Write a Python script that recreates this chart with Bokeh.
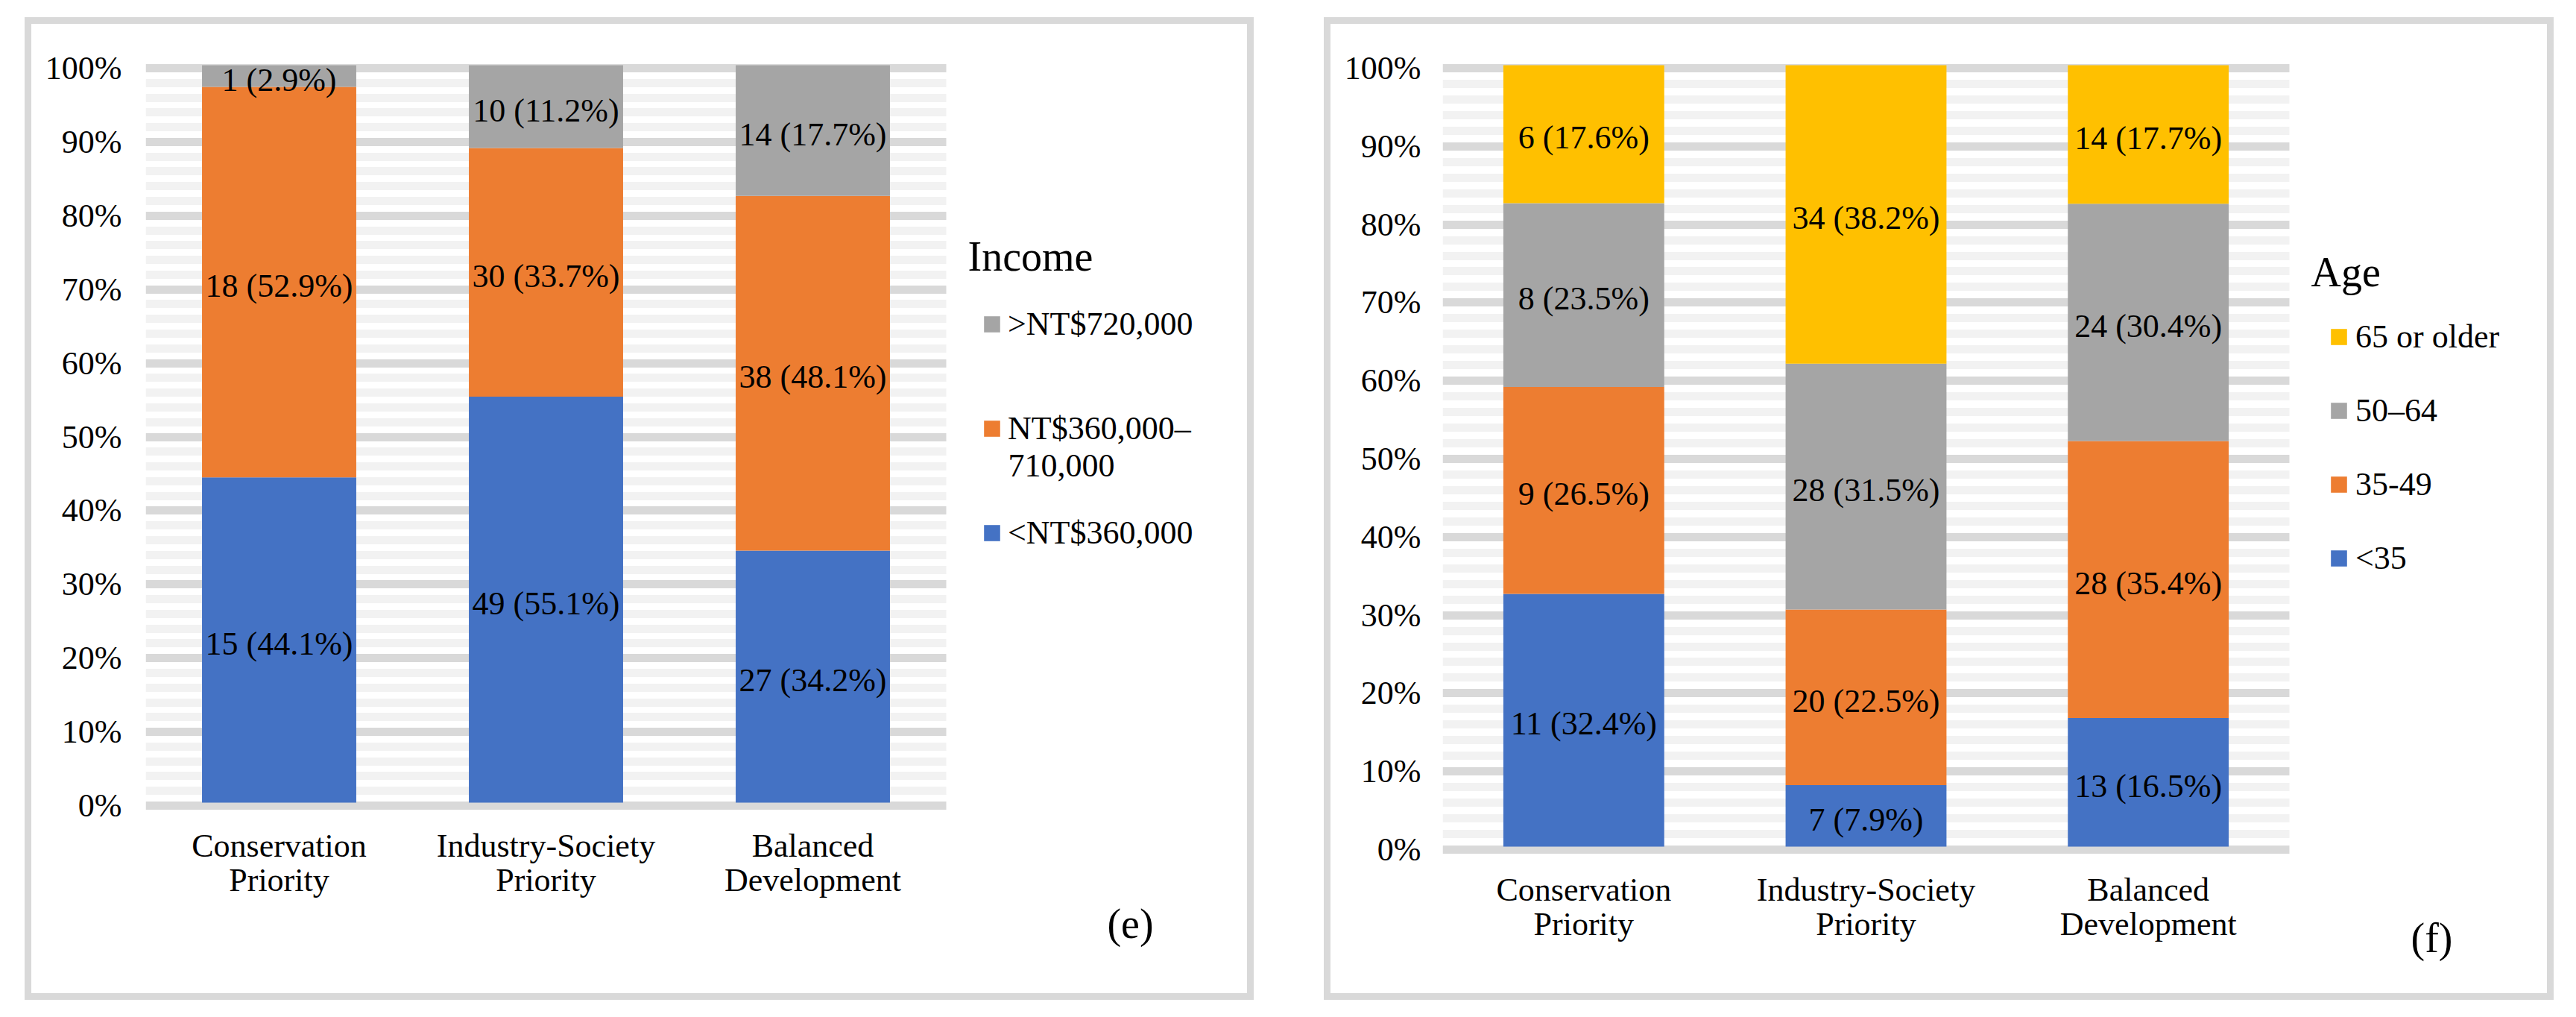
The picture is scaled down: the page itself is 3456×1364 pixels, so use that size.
from bokeh.plotting import figure
from bokeh.models import (Range1d, FixedTicker, Legend, LegendItem, Label,
                          LinearAxis, Grid, ColumnDataSource)
from bokeh.layouts import row
from bokeh.embed import file_html
from bokeh.resources import INLINE
from bokeh.core.properties import value

# ---------------- data ----------------
categories = ["Conservation Priority", "Industry-Society Priority", "Balanced Development"]
category_line1 = ["Conservation", "Industry-Society", "Balanced"]
category_line2 = ["Priority", "Priority", "Development"]

income_names = ["<NT$360,000", "NT$360,000–710,000", ">NT$720,000"]
income_legend = ["<NT$360,000", "NT$360,000–", ">NT$720,000"]
income_legend_cont = "710,000"
income_low = [15, 49, 27]
income_mid = [18, 30, 38]
income_high = [1, 10, 14]

age_names = ["<35", "35-49", "50–64", "65 or older"]
age_legend = ["<35", "35-49", "50–64", "65 or older"]
age_lt35 = [11, 7, 13]
age_35_49 = [9, 20, 28]
age_50_64 = [8, 28, 24]
age_65_up = [6, 34, 14]

y_ticks = [0, 10, 20, 30, 40, 50, 60, 70, 80, 90, 100]
y_tick_labels = ["0%", "10%", "20%", "30%", "40%", "50%", "60%", "70%", "80%", "90%", "100%"]
y_minor_ticks = [v for v in range(0, 101, 2) if v % 10 != 0]

income_colors = ["#4472C4", "#ED7D31", "#A5A5A5"]
age_colors = ["#4472C4", "#ED7D31", "#A5A5A5", "#FFC000"]

FONT = "Liberation Serif"
LABEL_FIX = 14  # px, baseline correction for Label annotations


def style_axis(ax, standoff):
    ax.axis_line_color = None
    ax.major_tick_line_color = None
    ax.minor_tick_line_color = None
    ax.major_tick_out = 0
    ax.major_tick_in = 0
    ax.minor_tick_out = 0
    ax.minor_tick_in = 0
    ax.major_label_standoff = standoff
    ax.major_label_text_font = FONT
    ax.major_label_text_font_size = "44px"
    ax.major_label_text_color = "black"
    ax.major_label_text_line_height = 1.0


def make_panel(series, names, legend_labels, colors, title_text, tag_text, g, cont=None):
    n = len(categories)
    cat_x = [i + 0.5 for i in range(n)]
    totals = [sum(s[i] for s in series) for i in range(n)]

    # geometry (page pixels)
    cx0, cy0 = g["canvas"]
    W, H = g["size"]
    fl, fr, ft, fb = g["frame"]
    b0, b100 = g["bar0"], g["bar100"]
    ppu = (b0 - b100) / 100.0
    y_start = (b0 - fb) / ppu
    y_end = 100 + (b100 - ft) / ppu
    cat_px = (g["grid_right"] - fl) / n
    x_end = (fr - fl) / cat_px
    axis_at = (b0 - g["axis_line"]) / ppu

    p = figure(x_range=Range1d(0, x_end), y_range=Range1d(y_start, y_end),
               width=W, height=H, output_backend="svg",
               toolbar_location=None, x_axis_location=None, y_axis_location=None,
               min_border_left=fl - cx0, min_border_right=cx0 + W - fr,
               min_border_top=ft - cy0, min_border_bottom=cy0 + H - fb)
    p.outline_line_color = None
    p.xgrid.visible = False
    p.ygrid.visible = False
    p.styles = {"outline": "9px solid #d9d9d9"}

    # y axis + banded gridlines (Excel draws them a few px below the value)
    shift = 4.0 / ppu
    p.extra_y_ranges = {"grid": Range1d(y_start + shift, y_end + shift)}
    yticker = FixedTicker(ticks=y_ticks, minor_ticks=y_minor_ticks)
    yaxis = LinearAxis(y_range_name="grid", ticker=yticker,
                       major_label_overrides=dict(zip(y_ticks, y_tick_labels)))
    style_axis(yaxis, fl - g["ylab_right"])
    p.add_layout(yaxis, "left")

    grid = Grid(dimension=1, ticker=yticker, y_range_name="grid", cross_bounds=(0, n))
    grid.grid_line_color = "#d9d9d9"
    grid.grid_line_width = 11
    grid.minor_grid_line_color = "#f2f2f2"
    grid.minor_grid_line_width = 11
    p.add_layout(grid)

    # two-line category labels, both axes pinned at the bottom of the plot area
    xticker = FixedTicker(ticks=cat_x)
    xa1 = LinearAxis(ticker=xticker, fixed_location=axis_at,
                     major_label_overrides=dict(zip(cat_x, category_line1)))
    style_axis(xa1, 21)
    xa2 = LinearAxis(ticker=xticker, fixed_location=axis_at,
                     major_label_overrides=dict(zip(cat_x, category_line2)))
    style_axis(xa2, 67)
    p.add_layout(xa1, "below")
    p.add_layout(xa2, "below")

    bottoms = [0.0] * n
    renderers = []
    for s, name, col in zip(series, names, colors):
        pct = [100.0 * v / t for v, t in zip(s, totals)]
        tops = [b + q for b, q in zip(bottoms, pct)]
        src = ColumnDataSource(dict(
            x=cat_x, bottom=bottoms, top=tops,
            mid=[(b + t) / 2 for b, t in zip(bottoms, tops)],
            label=[f"{v} ({q:.1f}%)" for v, q in zip(s, pct)]))
        r = p.vbar(x="x", bottom="bottom", top="top", width=g["bar_w"], source=src,
                   fill_color=col, line_color=None, name=name)
        p.text(x="x", y="mid", text="label", source=src, text_align="center",
               text_baseline="middle", text_font=value(FONT), text_font_size=value("44px"),
               text_color="black", y_offset=5)
        renderers.append(r)
        bottoms = tops

    items = [LegendItem(label=lab, renderers=[r]) for lab, r in zip(legend_labels, renderers)]
    items.reverse()
    lx, lb = g["legend_left_bottom"]
    legend = Legend(items=items, location=(lx - fl, fb - lb), orientation="vertical",
                    glyph_width=27, glyph_height=27, label_standoff=g["lstand"],
                    spacing=g["lsp"], padding=0, margin=0, label_height=50,
                    border_line_color=None, background_fill_alpha=0,
                    label_text_font=FONT, label_text_font_size="44px",
                    label_text_color="black")
    p.add_layout(legend)

    def add_label(text, px, py, size, align):
        p.add_layout(Label(x=px - fl, y=fb - (py - LABEL_FIX), x_units="screen", y_units="screen",
                           text=text, text_font=FONT, text_font_size=size,
                           text_line_height=1.0, text_color="black",
                           text_baseline="alphabetic", text_align=align))

    add_label(title_text, g["title_at"][0], g["title_at"][1], "56px", "left")
    if cont is not None:
        add_label(cont, g["cont_at"][0], g["cont_at"][1], "44px", "left")
    add_label(tag_text, g["tag_at"][0], g["tag_at"][1], "56px", "center")
    return p


geo_left = dict(canvas=(42, 32), size=(1631, 1300), frame=(195, 1663, 81, 1322),
                grid_right=1269, bar0=1076, bar100=87, axis_line=1088, ylab_right=163,
                bar_w=0.578, legend_left_bottom=(1317, 740), lsp=89, lstand=8,
                title_at=(1298, 357), cont_at=(1352, 638), tag_at=(1516, 1252))
geo_right = dict(canvas=(1785, 32), size=(1632, 1300), frame=(1935, 3407, 81, 1322),
                 grid_right=3071, bar0=1135, bar100=87, axis_line=1147, ylab_right=1906,
                 bar_w=0.57, legend_left_bottom=(3124, 774), lsp=48, lstand=9,
                 title_at=(3100, 378), tag_at=(3262, 1271))

p1 = make_panel([income_low, income_mid, income_high], income_names, income_legend,
                income_colors, "Income", "(e)", geo_left, cont=income_legend_cont)
p2 = make_panel([age_lt35, age_35_49, age_50_64, age_65_up], age_names, age_legend,
                age_colors, "Age", "(f)", geo_right)
p1.margin = (32, 0, 0, 42)
p2.margin = (32, 0, 0, 1785 - (42 + 1631))

layout = row(p1, p2)
open("out.html", "w").write(file_html(layout, INLINE))
